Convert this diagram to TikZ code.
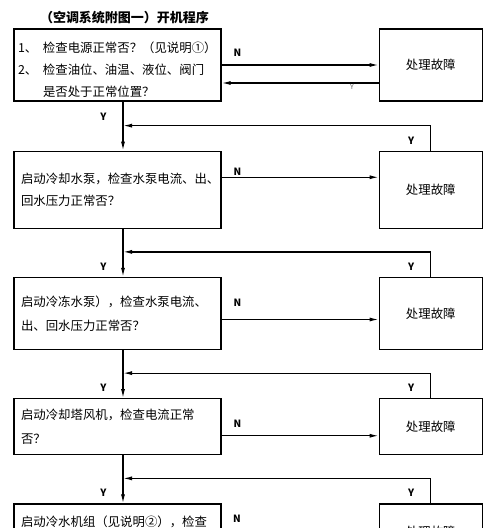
\documentclass[tikz,border=0pt]{standalone}
\usepackage{fontspec}
\setmainfont{Noto Sans CJK SC}
\usetikzlibrary{positioning, arrows.meta}

\tikzset{
  check/.style={draw, minimum width=207pt, inner xsep=7pt, inner ysep=2pt,
    text width=193pt, align=left, font=\fontsize{12.4}{22}\selectfont},
  fault/.style={draw, minimum width=103pt, font=\fontsize{12.4}{14}\selectfont},
  lab/.style={inner sep=1pt, font=\fontsize{10}{10}\selectfont\bfseries},
  faint/.style={inner sep=1pt, text=black!60, font=\fontsize{7}{7}\selectfont}
}

\begin{document}
\begin{tikzpicture}[x=1pt,y=-1pt,node distance=48pt,line width=1.25pt,
    >={Latex[length=9pt,width=4pt]}]
  \useasboundingbox (0,0) rectangle (500,528);

  % title and the column of checks
  \node[font=\fontsize{13}{14}\selectfont\bfseries, inner sep=0pt] (head) at (124.5,18) {（空调系统附图一）开机程序};
  \node[check, minimum height=72pt, inner xsep=4pt, text width=199pt] (b1) at (117.5,65)
    {\rule{0pt}{19pt}\makebox[25pt][l]{1、}检查电源正常否？（见说明①）\\
     \makebox[25pt][l]{2、}检查油位、油温、液位、阀门\\
     \hspace*{25pt}是否处于正常位置？};
  \node[check, minimum height=77pt, below=49pt of b1] (b2) {启动冷却水泵，检查水泵电流、出、\\回水压力正常否？};
  \node[check, minimum height=72pt, below=of b2] (b3) {启动冷冻水泵），检查水泵电流、\\[2pt]出、回水压力正常否？};
  \node[check, minimum height=56pt, below=of b3] (b4) {启动冷却塔风机，检查电流正常\\[2pt]否？};
  \node[check, inner ysep=11.5pt, below=of b4] (b5) {启动冷水机组（见说明②），检查};

  % fault boxes on the right
  \node[fault, minimum height=72pt, right=157pt of b1] (r1) {处理故障};
  \node[fault, minimum height=77pt, right=157pt of b2] (r2) {处理故障};
  \node[fault, minimum height=72pt, right=157pt of b3] (r3) {处理故障};
  \node[fault, minimum height=56pt, right=157pt of b4] (r4) {处理故障};
  \node[fault, inner ysep=22pt, anchor=north west] (r5) at ([xshift=157pt]b5.north east) {处理故障};

  % helper points
  \coordinate (m1) at ([xshift=5.5pt]b1.south);
  \coordinate (ret1) at ([yshift=-18pt]r1.west);
  \coordinate (n2) at ([yshift=12.5pt]b2.east);
  \coordinate (n3) at ([yshift=-6pt]b3.east);
  \coordinate (n4) at ([yshift=-9pt]b4.east);
  \path (r2.north) ++(0,-25) coordinate (t2)
        (r3.north) ++(0,-25) coordinate (t3)
        (r4.north) ++(0,-25) coordinate (t4)
        (r5.north) ++(0,-25) coordinate (t5);

  % N branches to the fault boxes
  \path[->]
    (b1.east) edge node[lab, pos=.1, above=7pt] {N} (r1.west)
    (ret1) edge node[faint, pos=.17, below=0pt] {Y} (ret1 -| b1.east)
    (n2) edge node[lab, pos=.1, above=0pt] {N} (n2 -| r2.west)
    (n3) edge node[lab, pos=.1, above=11pt] {N} (n3 -| r3.west)
    (n4) edge node[lab, pos=.1, above=7pt] {N} (n4 -| r4.west);
  \node[lab] (n5) at (237,519) {N};

  % Y down the main line
  \path[->]
    (m1) edge node[lab, pos=.31, left=15pt] {Y} (m1 |- b2.north)
    (m1 |- b2.south) edge node[lab, pos=.79, left=15pt] {Y} (m1 |- b3.north)
    (m1 |- b3.south) edge node[lab, pos=.79, left=15pt] {Y} (m1 |- b4.north)
    (m1 |- b4.south) edge node[lab, pos=.77, left=15pt] {Y} (m1 |- b5.north);

  % back from the fault boxes
  \draw[->] (r2.north) -- node[lab, pos=.4, left=15pt] {Y} (t2) -- (t2 -| m1);
  \draw[->] (r3.north) -- node[lab, pos=.4, left=15pt] {Y} (t3) -- (t3 -| m1);
  \draw[->] (r4.north) -- node[lab, pos=.4, left=15pt] {Y} (t4) -- (t4 -| m1);
  \draw[->] (r5.north) -- node[lab, pos=.44, left=15pt] {Y} (t5) -- (t5 -| m1);
\end{tikzpicture}
\end{document}
